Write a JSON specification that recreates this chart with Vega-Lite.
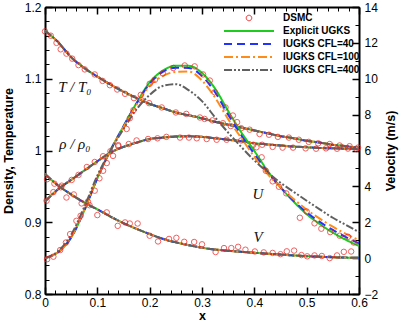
{
"$schema": "https://vega.github.io/schema/vega-lite/v6.json",
"width": 314, "height": 287,
"autosize": {"type": "none"},
"padding": {"left": 45, "top": 7, "right": 40, "bottom": 28},
"config": {
  "view": {"stroke": null},
  "axis": {"labelFont": "Liberation Sans", "labelFontSize": 12, "labelColor": "black", "titleFont": "Liberation Sans", "titleFontSize": 12.5, "titleFontWeight": "bold", "titleColor": "black", "domainColor": "black", "domainWidth": 2, "tickColor": "black", "grid": false, "labelFlush": false, "labelOverlap": false},
  "legend": {"symbolSize": 100}
},
"datasets": {
  "curves": [
    {"x":0,"m":"Explicit UGKS","T":1.167,"r":0.929,"V":4.69,"U":0},
    {"x":0,"m":"IUGKS CFL=40","T":1.167,"r":0.929,"V":4.69,"U":0},
    {"x":0,"m":"IUGKS CFL=100","T":1.167,"r":0.929,"V":4.69,"U":0},
    {"x":0,"m":"IUGKS CFL=400","T":1.167,"r":0.929,"V":4.69,"U":0},
    {"x":0.025,"m":"Explicit UGKS","T":1.151,"r":0.946,"V":4.05,"U":0.33},
    {"x":0.025,"m":"IUGKS CFL=40","T":1.151,"r":0.946,"V":4.05,"U":0.33},
    {"x":0.025,"m":"IUGKS CFL=100","T":1.151,"r":0.946,"V":4.05,"U":0.33},
    {"x":0.025,"m":"IUGKS CFL=400","T":1.151,"r":0.946,"V":4.05,"U":0.38},
    {"x":0.05,"m":"Explicit UGKS","T":1.130,"r":0.959,"V":3.55,"U":1.15},
    {"x":0.05,"m":"IUGKS CFL=40","T":1.130,"r":0.959,"V":3.55,"U":1.15},
    {"x":0.05,"m":"IUGKS CFL=100","T":1.130,"r":0.959,"V":3.55,"U":1.17},
    {"x":0.05,"m":"IUGKS CFL=400","T":1.130,"r":0.959,"V":3.55,"U":1.30},
    {"x":0.075,"m":"Explicit UGKS","T":1.115,"r":0.972,"V":3.10,"U":2.65},
    {"x":0.075,"m":"IUGKS CFL=40","T":1.115,"r":0.972,"V":3.10,"U":2.65},
    {"x":0.075,"m":"IUGKS CFL=100","T":1.115,"r":0.972,"V":3.10,"U":2.70},
    {"x":0.075,"m":"IUGKS CFL=400","T":1.115,"r":0.972,"V":3.10,"U":2.85},
    {"x":0.1,"m":"Explicit UGKS","T":1.103,"r":0.985,"V":2.72,"U":4.45},
    {"x":0.1,"m":"IUGKS CFL=40","T":1.103,"r":0.985,"V":2.72,"U":4.45},
    {"x":0.1,"m":"IUGKS CFL=100","T":1.103,"r":0.985,"V":2.72,"U":4.50},
    {"x":0.1,"m":"IUGKS CFL=400","T":1.103,"r":0.985,"V":2.72,"U":4.60},
    {"x":0.125,"m":"Explicit UGKS","T":1.092,"r":0.997,"V":2.32,"U":6.00},
    {"x":0.125,"m":"IUGKS CFL=40","T":1.092,"r":0.997,"V":2.32,"U":6.00},
    {"x":0.125,"m":"IUGKS CFL=100","T":1.092,"r":0.997,"V":2.32,"U":6.00},
    {"x":0.125,"m":"IUGKS CFL=400","T":1.092,"r":0.997,"V":2.32,"U":6.00},
    {"x":0.15,"m":"Explicit UGKS","T":1.082,"r":1.005,"V":1.95,"U":7.35},
    {"x":0.15,"m":"IUGKS CFL=40","T":1.082,"r":1.005,"V":1.95,"U":7.35},
    {"x":0.15,"m":"IUGKS CFL=100","T":1.082,"r":1.005,"V":1.95,"U":7.30},
    {"x":0.15,"m":"IUGKS CFL=400","T":1.082,"r":1.005,"V":1.95,"U":7.20},
    {"x":0.175,"m":"Explicit UGKS","T":1.073,"r":1.011,"V":1.63,"U":8.65},
    {"x":0.175,"m":"IUGKS CFL=40","T":1.073,"r":1.011,"V":1.63,"U":8.62},
    {"x":0.175,"m":"IUGKS CFL=100","T":1.073,"r":1.011,"V":1.63,"U":8.55},
    {"x":0.175,"m":"IUGKS CFL=400","T":1.073,"r":1.011,"V":1.63,"U":8.30},
    {"x":0.2,"m":"Explicit UGKS","T":1.065,"r":1.016,"V":1.34,"U":9.80},
    {"x":0.2,"m":"IUGKS CFL=40","T":1.065,"r":1.016,"V":1.34,"U":9.72},
    {"x":0.2,"m":"IUGKS CFL=100","T":1.065,"r":1.016,"V":1.34,"U":9.60},
    {"x":0.2,"m":"IUGKS CFL=400","T":1.065,"r":1.016,"V":1.34,"U":9.10},
    {"x":0.225,"m":"Explicit UGKS","T":1.059,"r":1.018,"V":1.08,"U":10.45},
    {"x":0.225,"m":"IUGKS CFL=40","T":1.059,"r":1.018,"V":1.08,"U":10.38},
    {"x":0.225,"m":"IUGKS CFL=100","T":1.059,"r":1.018,"V":1.08,"U":10.15},
    {"x":0.225,"m":"IUGKS CFL=400","T":1.059,"r":1.018,"V":1.08,"U":9.60},
    {"x":0.25,"m":"Explicit UGKS","T":1.053,"r":1.0195,"V":0.88,"U":10.73},
    {"x":0.25,"m":"IUGKS CFL=40","T":1.053,"r":1.0195,"V":0.88,"U":10.62},
    {"x":0.25,"m":"IUGKS CFL=100","T":1.053,"r":1.0195,"V":0.88,"U":10.38},
    {"x":0.25,"m":"IUGKS CFL=400","T":1.053,"r":1.0195,"V":0.88,"U":9.70},
    {"x":0.275,"m":"Explicit UGKS","T":1.049,"r":1.0198,"V":0.72,"U":10.72},
    {"x":0.275,"m":"IUGKS CFL=40","T":1.049,"r":1.0198,"V":0.72,"U":10.60},
    {"x":0.275,"m":"IUGKS CFL=100","T":1.049,"r":1.0198,"V":0.72,"U":10.40},
    {"x":0.275,"m":"IUGKS CFL=400","T":1.049,"r":1.0198,"V":0.72,"U":9.35},
    {"x":0.3,"m":"Explicit UGKS","T":1.045,"r":1.019,"V":0.58,"U":10.32},
    {"x":0.3,"m":"IUGKS CFL=40","T":1.045,"r":1.019,"V":0.58,"U":10.15},
    {"x":0.3,"m":"IUGKS CFL=100","T":1.045,"r":1.019,"V":0.58,"U":9.90},
    {"x":0.3,"m":"IUGKS CFL=400","T":1.045,"r":1.019,"V":0.58,"U":8.75},
    {"x":0.325,"m":"Explicit UGKS","T":1.040,"r":1.017,"V":0.48,"U":9.45},
    {"x":0.325,"m":"IUGKS CFL=40","T":1.040,"r":1.017,"V":0.48,"U":9.25},
    {"x":0.325,"m":"IUGKS CFL=100","T":1.040,"r":1.017,"V":0.48,"U":8.95},
    {"x":0.325,"m":"IUGKS CFL=400","T":1.040,"r":1.017,"V":0.48,"U":7.85},
    {"x":0.35,"m":"Explicit UGKS","T":1.036,"r":1.015,"V":0.41,"U":8.20},
    {"x":0.35,"m":"IUGKS CFL=40","T":1.036,"r":1.015,"V":0.41,"U":8.00},
    {"x":0.35,"m":"IUGKS CFL=100","T":1.036,"r":1.015,"V":0.41,"U":7.75},
    {"x":0.35,"m":"IUGKS CFL=400","T":1.036,"r":1.015,"V":0.41,"U":7.00},
    {"x":0.375,"m":"Explicit UGKS","T":1.032,"r":1.013,"V":0.35,"U":7.02},
    {"x":0.375,"m":"IUGKS CFL=40","T":1.032,"r":1.013,"V":0.35,"U":6.85},
    {"x":0.375,"m":"IUGKS CFL=100","T":1.032,"r":1.013,"V":0.35,"U":6.70},
    {"x":0.375,"m":"IUGKS CFL=400","T":1.032,"r":1.013,"V":0.35,"U":6.20},
    {"x":0.4,"m":"Explicit UGKS","T":1.028,"r":1.010,"V":0.30,"U":5.98},
    {"x":0.4,"m":"IUGKS CFL=40","T":1.028,"r":1.010,"V":0.30,"U":5.80},
    {"x":0.4,"m":"IUGKS CFL=100","T":1.028,"r":1.010,"V":0.30,"U":5.65},
    {"x":0.4,"m":"IUGKS CFL=400","T":1.028,"r":1.010,"V":0.30,"U":5.45},
    {"x":0.425,"m":"Explicit UGKS","T":1.024,"r":1.0085,"V":0.25,"U":4.88},
    {"x":0.425,"m":"IUGKS CFL=40","T":1.024,"r":1.0085,"V":0.25,"U":4.80},
    {"x":0.425,"m":"IUGKS CFL=100","T":1.024,"r":1.0085,"V":0.25,"U":4.70},
    {"x":0.425,"m":"IUGKS CFL=400","T":1.024,"r":1.0085,"V":0.25,"U":4.80},
    {"x":0.45,"m":"Explicit UGKS","T":1.020,"r":1.007,"V":0.20,"U":3.95},
    {"x":0.45,"m":"IUGKS CFL=40","T":1.020,"r":1.007,"V":0.20,"U":3.95},
    {"x":0.45,"m":"IUGKS CFL=100","T":1.020,"r":1.007,"V":0.20,"U":3.95},
    {"x":0.45,"m":"IUGKS CFL=400","T":1.020,"r":1.007,"V":0.20,"U":4.20},
    {"x":0.475,"m":"Explicit UGKS","T":1.017,"r":1.0055,"V":0.15,"U":3.15},
    {"x":0.475,"m":"IUGKS CFL=40","T":1.017,"r":1.0055,"V":0.15,"U":3.20},
    {"x":0.475,"m":"IUGKS CFL=100","T":1.017,"r":1.0055,"V":0.15,"U":3.30},
    {"x":0.475,"m":"IUGKS CFL=400","T":1.017,"r":1.0055,"V":0.15,"U":3.70},
    {"x":0.5,"m":"Explicit UGKS","T":1.0135,"r":1.0045,"V":0.11,"U":2.45},
    {"x":0.5,"m":"IUGKS CFL=40","T":1.0135,"r":1.0045,"V":0.11,"U":2.55},
    {"x":0.5,"m":"IUGKS CFL=100","T":1.0135,"r":1.0045,"V":0.11,"U":2.70},
    {"x":0.5,"m":"IUGKS CFL=400","T":1.0135,"r":1.0045,"V":0.11,"U":3.20},
    {"x":0.525,"m":"Explicit UGKS","T":1.011,"r":1.0035,"V":0.08,"U":1.90},
    {"x":0.525,"m":"IUGKS CFL=40","T":1.011,"r":1.0035,"V":0.08,"U":2.02},
    {"x":0.525,"m":"IUGKS CFL=100","T":1.011,"r":1.0035,"V":0.08,"U":2.20},
    {"x":0.525,"m":"IUGKS CFL=400","T":1.011,"r":1.0035,"V":0.08,"U":2.72},
    {"x":0.55,"m":"Explicit UGKS","T":1.008,"r":1.003,"V":0.05,"U":1.42},
    {"x":0.55,"m":"IUGKS CFL=40","T":1.008,"r":1.003,"V":0.05,"U":1.57},
    {"x":0.55,"m":"IUGKS CFL=100","T":1.008,"r":1.003,"V":0.05,"U":1.75},
    {"x":0.55,"m":"IUGKS CFL=400","T":1.008,"r":1.003,"V":0.05,"U":2.25},
    {"x":0.575,"m":"Explicit UGKS","T":1.006,"r":1.0025,"V":0.03,"U":1.02},
    {"x":0.575,"m":"IUGKS CFL=40","T":1.006,"r":1.0025,"V":0.03,"U":1.17},
    {"x":0.575,"m":"IUGKS CFL=100","T":1.006,"r":1.0025,"V":0.03,"U":1.35},
    {"x":0.575,"m":"IUGKS CFL=400","T":1.006,"r":1.0025,"V":0.03,"U":1.85},
    {"x":0.6,"m":"Explicit UGKS","T":1.0035,"r":1.002,"V":0.02,"U":0.68},
    {"x":0.6,"m":"IUGKS CFL=40","T":1.0035,"r":1.002,"V":0.02,"U":0.82},
    {"x":0.6,"m":"IUGKS CFL=100","T":1.0035,"r":1.002,"V":0.02,"U":1.00},
    {"x":0.6,"m":"IUGKS CFL=400","T":1.0035,"r":1.002,"V":0.02,"U":1.45}
  ],
  "dsmc": [
    {"x":0,"v":"T","val":1.166},{"x":0.011,"v":"T","val":1.160},{"x":0.022,"v":"T","val":1.150},{"x":0.030,"v":"T","val":1.141},{"x":0.041,"v":"T","val":1.135},{"x":0.052,"v":"T","val":1.128},{"x":0.064,"v":"T","val":1.119},{"x":0.076,"v":"T","val":1.113},{"x":0.095,"v":"T","val":1.106},{"x":0.110,"v":"T","val":1.097},{"x":0.124,"v":"T","val":1.091},{"x":0.138,"v":"T","val":1.085},{"x":0.153,"v":"T","val":1.079},{"x":0.170,"v":"T","val":1.073},{"x":0.184,"v":"T","val":1.070},{"x":0.199,"v":"T","val":1.066},{"x":0.223,"v":"T","val":1.060},{"x":0.250,"v":"T","val":1.053},{"x":0.270,"v":"T","val":1.051},{"x":0.296,"v":"T","val":1.046},{"x":0.305,"v":"T","val":1.044},{"x":0.320,"v":"T","val":1.042},{"x":0.340,"v":"T","val":1.038},{"x":0.355,"v":"T","val":1.034},{"x":0.375,"v":"T","val":1.031},{"x":0.391,"v":"T","val":1.029},{"x":0.410,"v":"T","val":1.023},{"x":0.428,"v":"T","val":1.022},{"x":0.445,"v":"T","val":1.019},{"x":0.466,"v":"T","val":1.018},{"x":0.485,"v":"T","val":1.015},{"x":0.504,"v":"T","val":1.012},{"x":0.522,"v":"T","val":1.010},{"x":0.544,"v":"T","val":1.009},{"x":0.563,"v":"T","val":1.007},{"x":0.582,"v":"T","val":1.006},{"x":0.598,"v":"T","val":1.004},
    {"x":0.003,"v":"r","val":0.930},{"x":0.016,"v":"r","val":0.942},{"x":0.032,"v":"r","val":0.951},{"x":0.051,"v":"r","val":0.959},{"x":0.064,"v":"r","val":0.966},{"x":0.080,"v":"r","val":0.977},{"x":0.095,"v":"r","val":0.984},{"x":0.111,"v":"r","val":0.992},{"x":0.125,"v":"r","val":0.999},{"x":0.140,"v":"r","val":1.006},{"x":0.160,"v":"r","val":1.009},{"x":0.175,"v":"r","val":1.014},{"x":0.197,"v":"r","val":1.016},{"x":0.215,"v":"r","val":1.017},{"x":0.232,"v":"r","val":1.019},{"x":0.258,"v":"r","val":1.018},{"x":0.275,"v":"r","val":1.018},{"x":0.290,"v":"r","val":1.017},{"x":0.309,"v":"r","val":1.016},{"x":0.328,"v":"r","val":1.015},{"x":0.347,"v":"r","val":1.015},{"x":0.375,"v":"r","val":1.014},{"x":0.398,"v":"r","val":1.008},{"x":0.415,"v":"r","val":1.008},{"x":0.435,"v":"r","val":1.005},{"x":0.454,"v":"r","val":1.004},{"x":0.474,"v":"r","val":1.004},{"x":0.498,"v":"r","val":1.003},{"x":0.518,"v":"r","val":1.0025},{"x":0.537,"v":"r","val":1.003},{"x":0.558,"v":"r","val":1.0025},{"x":0.579,"v":"r","val":1.0027},{"x":0.595,"v":"r","val":1.002},
    {"x":0.004,"v":"V","val":4.40},{"x":0.018,"v":"V","val":4.15},{"x":0.030,"v":"V","val":3.95},{"x":0.041,"v":"V","val":3.38},{"x":0.055,"v":"V","val":3.55},{"x":0.070,"v":"V","val":3.05},{"x":0.085,"v":"V","val":2.95},{"x":0.100,"v":"V","val":2.40},{"x":0.118,"v":"V","val":2.55},{"x":0.139,"v":"V","val":1.80},{"x":0.153,"v":"V","val":1.99},{"x":0.162,"v":"V","val":1.93},{"x":0.177,"v":"V","val":1.93},{"x":0.200,"v":"V","val":1.25},{"x":0.216,"v":"V","val":0.93},{"x":0.237,"v":"V","val":1.07},{"x":0.251,"v":"V","val":1.13},{"x":0.266,"v":"V","val":0.91},{"x":0.285,"v":"V","val":0.90},{"x":0.300,"v":"V","val":0.77},{"x":0.326,"v":"V","val":0.34},{"x":0.342,"v":"V","val":0.56},{"x":0.356,"v":"V","val":0.56},{"x":0.369,"v":"V","val":0.63},{"x":0.383,"v":"V","val":0.47},{"x":0.401,"v":"V","val":0.37},{"x":0.418,"v":"V","val":0.32},{"x":0.435,"v":"V","val":0.29},{"x":0.450,"v":"V","val":0.22},{"x":0.462,"v":"V","val":0.38},{"x":0.476,"v":"V","val":0.42},{"x":0.490,"v":"V","val":0.17},{"x":0.501,"v":"V","val":0.10},{"x":0.515,"v":"V","val":0.15},{"x":0.529,"v":"V","val":0.12},{"x":0.544,"v":"V","val":0.00},{"x":0.558,"v":"V","val":0.15},{"x":0.571,"v":"V","val":0.35},{"x":0.585,"v":"V","val":0.37},
    {"x":0.004,"v":"U","val":-0.06},{"x":0.016,"v":"U","val":0.08},{"x":0.029,"v":"U","val":0.45},{"x":0.040,"v":"U","val":0.87},{"x":0.048,"v":"U","val":1.34},{"x":0.060,"v":"U","val":2.08},{"x":0.068,"v":"U","val":2.36},{"x":0.082,"v":"U","val":3.15},{"x":0.095,"v":"U","val":3.76},{"x":0.104,"v":"U","val":4.45},{"x":0.111,"v":"U","val":4.87},{"x":0.118,"v":"U","val":5.30},{"x":0.130,"v":"U","val":5.70},{"x":0.140,"v":"U","val":6.30},{"x":0.156,"v":"U","val":7.20},{"x":0.162,"v":"U","val":7.80},{"x":0.169,"v":"U","val":8.25},{"x":0.183,"v":"U","val":9.10},{"x":0.200,"v":"U","val":9.72},{"x":0.210,"v":"U","val":9.94},{"x":0.225,"v":"U","val":10.30},{"x":0.245,"v":"U","val":10.60},{"x":0.267,"v":"U","val":10.74},{"x":0.286,"v":"U","val":10.69},{"x":0.302,"v":"U","val":10.24},{"x":0.315,"v":"U","val":9.90},{"x":0.324,"v":"U","val":9.25},{"x":0.345,"v":"U","val":8.40},{"x":0.359,"v":"U","val":7.95},{"x":0.367,"v":"U","val":7.58},{"x":0.404,"v":"U","val":6.18},{"x":0.414,"v":"U","val":5.62},{"x":0.422,"v":"U","val":4.87},{"x":0.435,"v":"U","val":4.28},{"x":0.447,"v":"U","val":3.98},{"x":0.461,"v":"U","val":3.61},{"x":0.487,"v":"U","val":2.25},{"x":0.500,"v":"U","val":2.60},{"x":0.515,"v":"U","val":1.94},{"x":0.528,"v":"U","val":1.64},{"x":0.545,"v":"U","val":1.45},{"x":0.563,"v":"U","val":1.25},{"x":0.579,"v":"U","val":1.19},{"x":0.590,"v":"U","val":0.87}
  ],
  "labels": [
    {"x":0.057,"val":1.088,"t":"T / T₀","side":"L"},
    {"x":0.057,"val":1.0095,"t":"ρ / ρ₀","side":"L"},
    {"x":0.407,"val":3.6,"t":"U","side":"R"},
    {"x":0.407,"val":1.2,"t":"V","side":"R"}
  ]
},
"layer": [
  {
    "data": {"name": "curves"},
    "transform": [{"fold": ["T", "r"], "as": ["var", "val"]}],
    "mark": {"type": "line", "strokeWidth": 2, "interpolate": "monotone"},
    "encoding": {
      "x": {"field": "x", "type": "quantitative", "scale": {"domain": [0, 0.6], "nice": false, "zero": false},
            "axis": {"orient": "bottom", "values": [0,0.1,0.2,0.3,0.4,0.5,0.6], "format": "~g", "tickSize": -7, "tickWidth": 1.5, "labelPadding": 10, "title": "x", "titlePadding": 1}},
      "y": {"field": "val", "type": "quantitative", "scale": {"domain": [0.8, 1.2], "nice": false, "zero": false},
            "axis": {"orient": "left", "values": [0.8,0.9,1,1.1,1.2], "format": "~g", "tickSize": -7, "tickWidth": 1.5, "labelPadding": 11, "title": "Density, Temperature", "titlePadding": 9}},
      "color": {"field": "m", "type": "nominal",
        "scale": {"domain": ["DSMC","Explicit UGKS","IUGKS CFL=40","IUGKS CFL=100","IUGKS CFL=400"], "range": ["#ee1c1c","#1ecc1e","#2233ff","#ff8c1a","#606060"]},
        "legend": {"orient": "none", "legendX": 197, "legendY": 4, "title": null, "symbolType": "M-5,0H5", "symbolSize": 100, "symbolStrokeWidth": 2, "labelFont": "Liberation Sans", "labelFontWeight": "bold", "labelFontSize": 10, "labelColor": "black", "labelOffset": 29, "rowPadding": 3, "padding": 2,
          "encode": {"symbols": {"update": {
            "shape": {"signal": "datum.value === 'DSMC' ? 'circle' : 'M-5,0H5'"},
            "size": {"signal": "datum.value === 'DSMC' ? 30 : 100"},
            "strokeWidth": {"signal": "datum.value === 'DSMC' ? 1 : 2"},
            "fill": {"value": "transparent"},
            "strokeDash": {"signal": "datum.value === 'IUGKS CFL=40' ? [8,5] : datum.value === 'IUGKS CFL=100' ? [9,3,2,3] : datum.value === 'IUGKS CFL=400' ? [8,2,2,2,2,2] : [1,0]"}
          }}}}},
      "strokeDash": {"field": "m", "type": "nominal", "legend": null,
        "scale": {"domain": ["DSMC","Explicit UGKS","IUGKS CFL=40","IUGKS CFL=100","IUGKS CFL=400"], "range": [[1,0],[1,0],[8,5],[9,3,2,3],[8,2,2,2,2,2]]}},
      "detail": {"field": "var"},
      "order": {"field": "x", "type": "quantitative"}
    }
  },
  {
    "data": {"name": "dsmc"},
    "transform": [{"filter": "datum.v === 'T' || datum.v === 'r'"}],
    "mark": {"type": "point", "filled": false, "size": 30, "strokeWidth": 1, "color": "#ee1c1c"},
    "encoding": {
      "x": {"field": "x", "type": "quantitative", "scale": {"domain": [0, 0.6], "nice": false, "zero": false},
            "axis": {"orient": "bottom", "values": [0,0.02,0.04,0.06,0.08,0.1,0.12,0.14,0.16,0.18,0.2,0.22,0.24,0.26,0.28,0.3,0.32,0.34,0.36,0.38,0.4,0.42,0.44,0.46,0.48,0.5,0.52,0.54,0.56,0.58,0.6], "labels": false, "domain": false, "tickSize": -4, "tickWidth": 1, "title": null}},
      "y": {"field": "val", "type": "quantitative", "scale": {"domain": [0.8, 1.2], "nice": false, "zero": false},
            "axis": {"orient": "left", "values": [0.8,0.82,0.84,0.86,0.88,0.9,0.92,0.94,0.96,0.98,1,1.02,1.04,1.06,1.08,1.1,1.12,1.14,1.16,1.18,1.2], "labels": false, "domain": false, "tickSize": -4, "tickWidth": 1, "title": null}}
    }
  },
  {
    "data": {"name": "labels"},
    "transform": [{"filter": "datum.side === 'L'"}],
    "mark": {"type": "text", "font": "Liberation Serif", "fontStyle": "italic", "fontSize": 15, "align": "center", "baseline": "middle", "color": "#111"},
    "encoding": {
      "x": {"field": "x", "type": "quantitative", "scale": {"domain": [0, 0.6], "nice": false, "zero": false}, "axis": null},
      "y": {"field": "val", "type": "quantitative", "scale": {"domain": [0.8, 1.2], "nice": false, "zero": false}, "axis": null},
      "text": {"field": "t"}
    }
  },
  {
    "data": {"name": "curves"},
    "transform": [{"fold": ["U", "V"], "as": ["var", "val"]}],
    "mark": {"type": "line", "strokeWidth": 2, "interpolate": "monotone"},
    "encoding": {
      "x": {"field": "x", "type": "quantitative", "scale": {"domain": [0, 0.6], "nice": false, "zero": false},
            "axis": {"orient": "top", "values": [0,0.1,0.2,0.3,0.4,0.5,0.6], "labels": false, "tickSize": -7, "tickWidth": 1.5, "title": null}},
      "y": {"field": "val", "type": "quantitative", "scale": {"domain": [-2, 14], "nice": false, "zero": false},
            "axis": {"orient": "right", "values": [-2,0,2,4,6,8,10,12,14], "format": "~g", "tickSize": -7, "tickWidth": 1.5, "labelPadding": 12, "title": "Velocity (m/s)", "titleAngle": 270, "titlePadding": 20}},
      "color": {"field": "m", "type": "nominal",
        "scale": {"domain": ["DSMC","Explicit UGKS","IUGKS CFL=40","IUGKS CFL=100","IUGKS CFL=400"], "range": ["#ee1c1c","#1ecc1e","#2233ff","#ff8c1a","#606060"]},
        "legend": {"orient": "none", "legendX": 197, "legendY": 4, "title": null, "symbolType": "M-5,0H5", "symbolSize": 100, "symbolStrokeWidth": 2, "labelFont": "Liberation Sans", "labelFontWeight": "bold", "labelFontSize": 10, "labelColor": "black", "labelOffset": 29, "rowPadding": 3, "padding": 2,
          "encode": {"symbols": {"update": {
            "shape": {"signal": "datum.value === 'DSMC' ? 'circle' : 'M-5,0H5'"},
            "size": {"signal": "datum.value === 'DSMC' ? 30 : 100"},
            "strokeWidth": {"signal": "datum.value === 'DSMC' ? 1 : 2"},
            "fill": {"value": "transparent"},
            "strokeDash": {"signal": "datum.value === 'IUGKS CFL=40' ? [8,5] : datum.value === 'IUGKS CFL=100' ? [9,3,2,3] : datum.value === 'IUGKS CFL=400' ? [8,2,2,2,2,2] : [1,0]"}
          }}}}},
      "strokeDash": {"field": "m", "type": "nominal", "legend": null,
        "scale": {"domain": ["DSMC","Explicit UGKS","IUGKS CFL=40","IUGKS CFL=100","IUGKS CFL=400"], "range": [[1,0],[1,0],[8,5],[9,3,2,3],[8,2,2,2,2,2]]}},
      "detail": {"field": "var"},
      "order": {"field": "x", "type": "quantitative"}
    }
  },
  {
    "data": {"name": "dsmc"},
    "transform": [{"filter": "datum.v === 'U' || datum.v === 'V'"}],
    "mark": {"type": "point", "filled": false, "size": 30, "strokeWidth": 1, "color": "#ee1c1c"},
    "encoding": {
      "x": {"field": "x", "type": "quantitative", "scale": {"domain": [0, 0.6], "nice": false, "zero": false},
            "axis": {"orient": "top", "values": [0,0.02,0.04,0.06,0.08,0.1,0.12,0.14,0.16,0.18,0.2,0.22,0.24,0.26,0.28,0.3,0.32,0.34,0.36,0.38,0.4,0.42,0.44,0.46,0.48,0.5,0.52,0.54,0.56,0.58,0.6], "labels": false, "domain": false, "tickSize": -4, "tickWidth": 1, "title": null}},
      "y": {"field": "val", "type": "quantitative", "scale": {"domain": [-2, 14], "nice": false, "zero": false},
            "axis": {"orient": "right", "values": [-2,-1,0,1,2,3,4,5,6,7,8,9,10,11,12,13,14], "labels": false, "domain": false, "tickSize": -4, "tickWidth": 1, "title": null}}
    }
  },
  {
    "data": {"name": "labels"},
    "transform": [{"filter": "datum.side === 'R'"}],
    "mark": {"type": "text", "font": "Liberation Serif", "fontStyle": "italic", "fontSize": 15, "align": "center", "baseline": "middle", "color": "#111"},
    "encoding": {
      "x": {"field": "x", "type": "quantitative", "scale": {"domain": [0, 0.6], "nice": false, "zero": false}, "axis": null},
      "y": {"field": "val", "type": "quantitative", "scale": {"domain": [-2, 14], "nice": false, "zero": false}, "axis": null},
      "text": {"field": "t"}
    }
  }
],
"resolve": {"scale": {"y": "independent"}, "axis": {"x": "independent", "y": "independent"}}
}
